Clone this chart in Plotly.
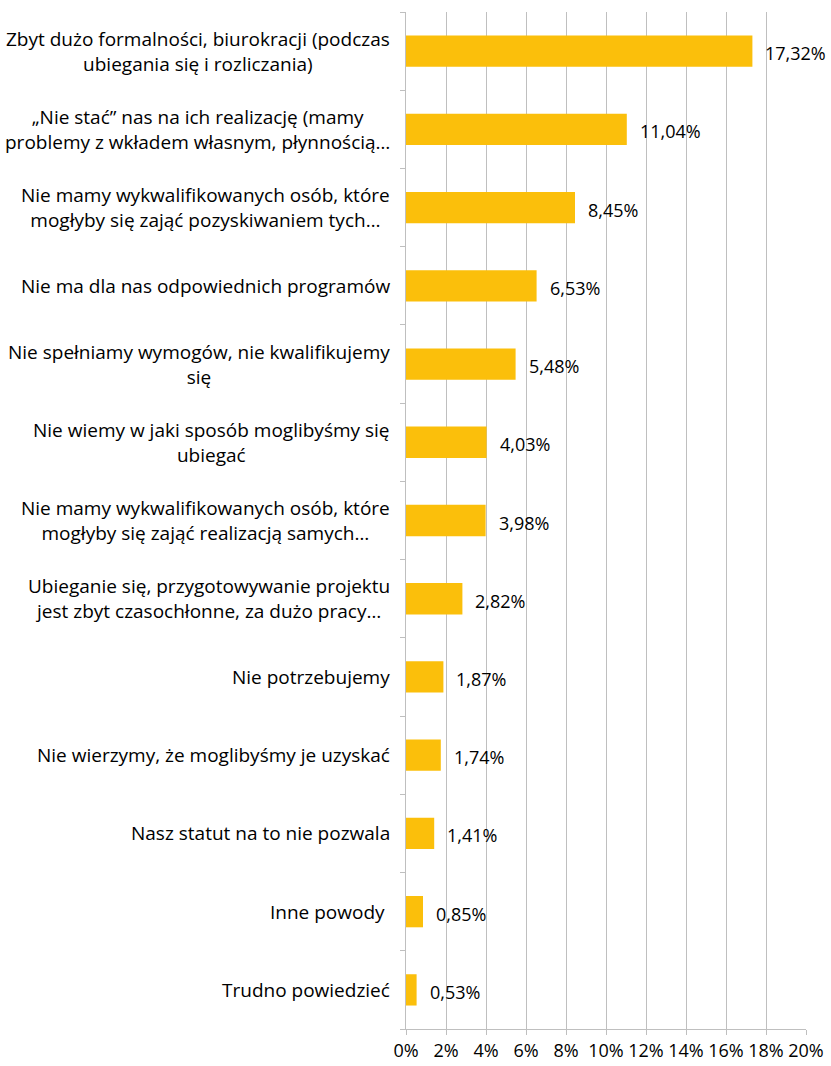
import plotly.graph_objects as go

# Reasons for not applying for external funds (share of responses, %)
categories = [
    "Zbyt dużo formalności, biurokracji (podczas<br>ubiegania się i rozliczania)",
    "„Nie stać” nas na ich realizację (mamy<br>problemy z wkładem własnym, płynnością…",
    "Nie mamy wykwalifikowanych osób, które<br>mogłyby się zająć pozyskiwaniem tych…",
    "Nie ma dla nas odpowiednich programów",
    "Nie spełniamy wymogów, nie kwalifikujemy<br>się",
    "Nie wiemy w jaki sposób moglibyśmy się<br>ubiegać",
    "Nie mamy wykwalifikowanych osób, które<br>mogłyby się zająć realizacją samych…",
    "Ubieganie się, przygotowywanie projektu<br>jest zbyt czasochłonne, za dużo pracy…",
    "Nie potrzebujemy",
    "Nie wierzymy, że moglibyśmy je uzyskać",
    "Nasz statut na to nie pozwala",
    "Inne powody ",
    "Trudno powiedzieć",
]
values = [17.32, 11.04, 8.45, 6.53, 5.48, 4.03, 3.98, 2.82, 1.87, 1.74, 1.41, 0.85, 0.53]
tick_vals = list(range(0, 21, 2))
tick_text = [f"{v}%" for v in tick_vals]

FONT = "Open Sans, Noto Sans, sans-serif"
GRID = "#BFBFBF"

fig = go.Figure(
    go.Bar(
        x=values,
        y=list(range(len(categories))),
        orientation="h",
        marker=dict(color="#FBBF0B", line=dict(width=0)),
        hoverinfo="skip",
    )
)

annotations = []
# value labels just past each bar end
for i, v in enumerate(values):
    annotations.append(dict(
        x=v, y=i, xref="x", yref="y",
        text=f"{v:.2f}%".replace(".", ","),
        showarrow=False, xanchor="left", yanchor="middle",
        xshift=11, yshift=-2,
        font=dict(family=FONT, size=18, color="#000000"),
    ))
# category labels, lines centred within each block
for i, c in enumerate(categories):
    annotations.append(dict(
        x=0, y=i, xref="paper", yref="y",
        text=c, showarrow=False, xanchor="right", yanchor="middle",
        align="center", xshift=-14,
        font=dict(family=FONT, size=19, color="#000000"),
    ))

fig.update_layout(
    width=831, height=1066,
    margin=dict(l=406, r=25, t=12, b=37),
    paper_bgcolor="white", plot_bgcolor="white",
    bargap=0.6,
    showlegend=False,
    annotations=annotations,
    xaxis=dict(
        range=[0, 20], tickvals=tick_vals, ticktext=tick_text,
        showgrid=True, gridcolor=GRID, gridwidth=1,
        showline=True, linecolor=GRID, linewidth=1,
        ticks="outside", ticklen=5, tickcolor=GRID,
        zeroline=False, automargin=False,
        tickfont=dict(family=FONT, size=18, color="#000000"),
    ),
    yaxis=dict(
        range=[len(categories) - 0.5, -0.5],
        tickvals=[i - 0.5 for i in range(len(categories) + 1)],
        ticktext=[""] * (len(categories) + 1),
        showgrid=False, showline=True, linecolor=GRID, linewidth=1,
        ticks="outside", ticklen=5, tickcolor=GRID,
        zeroline=False, automargin=False,
    ),
)

fig.write_html("out.html")
